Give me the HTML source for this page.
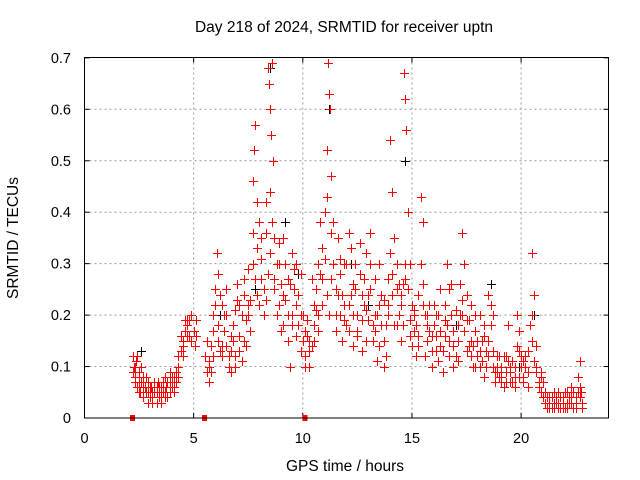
<!DOCTYPE html>
<html><head><meta charset="utf-8"><style>
body{margin:0;background:#fff}
svg{display:block;font-family:"Liberation Sans",sans-serif}
</style></head><body>
<svg id="chart" width="640" height="480" viewBox="0 0 640 480" xmlns="http://www.w3.org/2000/svg">
<rect width="640" height="480" fill="#fff"/>
<text x="344" y="32" font-size="15.5" text-anchor="middle">Day 218 of 2024, SRMTID for receiver uptn</text>
<text x="345" y="471" font-size="15.5" text-anchor="middle">GPS time / hours</text>
<text transform="translate(18,238) rotate(-90)" font-size="15.5" text-anchor="middle">SRMTID / TECUs</text>
<g id="grid"></g><g id="ticks"></g><g id="marks"></g>
<rect x="84.5" y="57.5" width="524" height="360.5" fill="none" stroke="#000" stroke-width="1"/>
</svg>
<script>
const xTicks=[0,5,10,15,20];
const yTicks=[0,0.1,0.2,0.3,0.4,0.5,0.6,0.7];
const yTickLabels=["0","0.1","0.2","0.3","0.4","0.5","0.6","0.7"];
const redHours=[2.2,2.25,2.3,2.35,2.4,2.5,2.55,2.6,2.7,2.75,2.8,2.9,3.0,3.05,3.1,3.2,3.3,3.35,3.4,3.5,3.6,3.7,3.75,3.8,3.9,4.0,4.1,4.2,4.3,4.4,4.5,4.6,4.7,4.8,4.9,5.0,5.05,5.1,5.5,5.6,5.7,5.8,5.9,6.0,6.05,6.1,6.2,6.3,6.4,6.5,6.6,6.7,6.8,6.9,7.0,7.1,7.2,7.3,7.4,7.5,7.6,7.7,7.75,7.8,7.9,8.0,8.1,8.2,8.3,8.4,8.45,8.5,8.55,8.6,8.65,8.7,8.8,8.9,9.0,9.1,9.2,9.3,9.4,9.5,9.6,9.7,9.8,9.9,10.0,10.1,10.2,10.3,10.4,10.5,10.6,10.7,10.8,10.9,11.0,11.1,11.15,11.2,11.25,11.3,11.4,11.5,11.6,11.7,11.8,11.9,12.0,12.1,12.2,12.3,12.4,12.5,12.6,12.7,12.8,12.9,13.0,13.1,13.2,13.3,13.4,13.5,13.6,13.7,13.8,13.9,14.0,14.1,14.2,14.3,14.4,14.5,14.6,14.65,14.7,14.75,14.8,14.9,15.0,15.1,15.2,15.3,15.4,15.5,15.6,15.7,15.8,15.9,16.0,16.1,16.2,16.3,16.4,16.5,16.6,16.7,16.8,16.9,17.0,17.1,17.2,17.3,17.4,17.5,17.6,17.7,17.8,17.9,18.0,18.1,18.2,18.3,18.4,18.5,18.6,18.7,18.8,18.9,19.0,19.1,19.2,19.3,19.4,19.5,19.6,19.7,19.8,19.9,20.0,20.1,20.2,20.3,20.5,20.6,20.7,20.8,20.9,21.0,21.1,21.2,21.3,21.4,21.5,21.6,21.7,21.8,21.9,22.0,22.1,22.2,22.3,22.4,22.5,22.6,22.7,22.75,22.8];
const redValues=[0.12,0.1,0.08,0.11,0.06,0.09,0.05,0.07,0.04,0.06,0.08,0.05,0.04,0.06,0.03,0.05,0.03,0.07,0.04,0.06,0.05,0.08,0.06,0.04,0.07,0.06,0.08,0.07,0.1,0.13,0.15,0.17,0.16,0.19,0.2,0.17,0.14,0.19,0.12,0.09,0.07,0.14,0.2,0.25,0.32,0.18,0.13,0.22,0.17,0.25,0.12,0.09,0.15,0.21,0.26,0.16,0.11,0.24,0.19,0.29,0.23,0.46,0.52,0.57,0.33,0.38,0.27,0.2,0.42,0.68,0.65,0.6,0.55,0.69,0.5,0.35,0.3,0.22,0.26,0.18,0.3,0.2,0.1,0.32,0.25,0.22,0.18,0.28,0.15,0.12,0.19,0.1,0.14,0.22,0.25,0.3,0.38,0.27,0.4,0.52,0.69,0.63,0.6,0.47,0.3,0.25,0.35,0.2,0.15,0.3,0.18,0.36,0.24,0.14,0.3,0.2,0.28,0.13,0.22,0.32,0.19,0.25,0.15,0.2,0.11,0.3,0.24,0.1,0.18,0.27,0.54,0.44,0.35,0.25,0.2,0.15,0.26,0.67,0.62,0.56,0.4,0.3,0.22,0.17,0.12,0.24,0.43,0.38,0.2,0.15,0.22,0.1,0.18,0.13,0.2,0.25,0.09,0.16,0.3,0.12,0.2,0.14,0.21,0.11,0.26,0.36,0.3,0.19,0.14,0.22,0.1,0.17,0.12,0.2,0.15,0.08,0.13,0.24,0.18,0.1,0.07,0.12,0.08,0.1,0.06,0.09,0.18,0.07,0.11,0.08,0.2,0.13,0.1,0.08,0.12,0.06,0.32,0.24,0.1,0.07,0.05,0.04,0.03,0.02,0.04,0.02,0.05,0.03,0.02,0.04,0.03,0.02,0.05,0.03,0.06,0.02,0.04,0.08,0.11,0.05,0.03];
const redHours2=[2.3,2.5,2.7,2.9,3.1,3.3,3.5,3.7,3.9,4.1,4.3,4.5,4.7,4.9,5.1,5.7,5.9,6.1,6.3,6.5,6.7,6.9,7.1,7.3,7.5,7.7,7.9,8.1,8.3,8.5,8.7,8.9,9.1,9.3,9.5,9.7,9.9,10.1,10.3,10.5,10.7,10.9,11.1,11.3,11.5,11.7,11.9,12.1,12.3,12.5,12.7,12.9,13.1,13.3,13.5,13.7,13.9,14.1,14.3,14.5,14.7,14.9,15.1,15.3,15.5,15.7,15.9,16.1,16.3,16.5,16.7,16.9,17.1,17.3,17.5,17.7,17.9,18.1,18.3,18.5,18.7,18.9,19.1,19.3,19.5,19.7,19.9,20.1,20.3,20.5,20.7,20.9,21.1,21.3,21.5,21.7,21.9,22.1,22.3,22.5,22.7];
const redValues2=[0.07,0.05,0.08,0.03,0.05,0.06,0.04,0.05,0.09,0.05,0.08,0.12,0.19,0.15,0.16,0.1,0.12,0.28,0.14,0.2,0.16,0.12,0.22,0.15,0.2,0.3,0.24,0.35,0.23,0.32,0.25,0.34,0.24,0.27,0.18,0.3,0.2,0.17,0.15,0.18,0.2,0.33,0.24,0.36,0.2,0.28,0.22,0.17,0.26,0.16,0.24,0.21,0.3,0.17,0.22,0.15,0.2,0.28,0.18,0.24,0.27,0.19,0.21,0.14,0.26,0.18,0.16,0.2,0.14,0.19,0.25,0.1,0.18,0.2,0.24,0.15,0.2,0.1,0.16,0.12,0.2,0.09,0.07,0.12,0.1,0.06,0.17,0.11,0.09,0.2,0.14,0.08,0.05,0.02,0.03,0.05,0.02,0.03,0.04,0.02,0.06];
const redHours3=[5.6,5.7,5.8,5.9,6.0,6.1,6.2,6.3,6.4,6.5,6.6,6.7,6.8,6.9,7.0,7.1,7.2,7.3,7.4,7.5,7.6,7.7,7.8,7.9,8.0,8.1,8.2,8.3,8.4,8.5,8.6,8.7,8.8,8.9,9.0,9.1,9.2,9.3,9.4,9.5,9.6,9.7,9.8,9.9,10.0,10.1,10.2,10.3,10.4,10.5,10.6,10.7,10.8,10.9,11.0,11.1,11.2,11.3,11.4,11.5,11.6,11.7,11.8,11.9,12.0,12.1,12.2,12.3,12.4,12.5,12.6,12.7,12.8,12.9,13.0,13.1,13.2,13.3,13.4,13.5,13.6,13.7,13.8,13.9,14.0,14.1,14.2,14.3,14.4,14.5,14.6,14.7,14.8,14.9,15.0,15.1,15.2,15.3,15.4,15.5,15.6,15.7,15.8,15.9,16.0,16.1,16.2,16.3,16.4,16.5,16.6,16.7,16.8,16.9,17.0,17.1,17.2,17.3,17.4,17.5,17.6,17.7,17.8,17.9,18.0,18.1,18.2,18.3,18.4,18.5,18.6,18.7,18.8,18.9,19.0,19.1,19.2,19.3,19.4,19.5,19.6,19.7,19.8,19.9,20.0,20.1,20.2,20.3,20.4,20.5,20.6,20.7,20.8];
const redValues3=[0.15,0.11,0.09,0.17,0.22,0.15,0.24,0.12,0.2,0.14,0.1,0.13,0.18,0.1,0.23,0.13,0.2,0.27,0.14,0.22,0.17,0.36,0.27,0.42,0.22,0.31,0.25,0.36,0.28,0.44,0.38,0.27,0.2,0.3,0.17,0.35,0.23,0.15,0.26,0.2,0.29,0.16,0.24,0.13,0.2,0.1,0.16,0.13,0.27,0.15,0.21,0.17,0.28,0.22,0.31,0.43,0.2,0.27,0.38,0.17,0.24,0.31,0.24,0.19,0.3,0.22,0.33,0.2,0.25,0.17,0.34,0.19,0.27,0.15,0.24,0.36,0.18,0.27,0.2,0.14,0.18,0.23,0.12,0.22,0.32,0.24,0.18,0.3,0.26,0.22,0.18,0.3,0.25,0.16,0.14,0.2,0.18,0.16,0.3,0.22,0.12,0.2,0.17,0.13,0.22,0.16,0.11,0.17,0.13,0.22,0.18,0.15,0.26,0.17,0.12,0.15,0.2,0.23,0.17,0.13,0.19,0.12,0.14,0.1,0.15,0.13,0.11,0.18,0.1,0.15,0.22,0.13,0.09,0.1,0.12,0.08,0.12,0.07,0.11,0.09,0.07,0.1,0.14,0.08,0.12,0.07,0.1,0.13,0.18,0.15,0.11,0.09,0.06];
const redHours4=[2.2,2.3,2.4,2.5,2.6,2.7,2.8,2.9,3.0,3.1,3.2,3.3,3.4,3.5,3.6,3.7,3.8,3.9,4.0,4.1,4.2,4.3,4.4,4.5,4.6,4.7,4.8,4.9,20.9,21.0,21.1,21.2,21.3,21.4,21.5,21.6,21.7,21.8,21.9,22.0,22.1,22.2,22.3,22.4,22.5,22.6,22.7,22.8];
const redValues4=[0.09,0.1,0.12,0.07,0.1,0.06,0.05,0.07,0.06,0.04,0.07,0.05,0.06,0.03,0.07,0.04,0.07,0.05,0.08,0.06,0.09,0.12,0.16,0.14,0.19,0.18,0.16,0.2,0.09,0.07,0.05,0.04,0.03,0.04,0.02,0.04,0.03,0.02,0.04,0.05,0.02,0.04,0.03,0.05,0.03,0.05,0.04,0.02];
const blackHours=[2.6,3.9,6.2,7.8,8.5,9.2,9.8,11.2,12.2,13.0,14.7,15.6,17.0,18.6,19.9,20.6,22.2];
const blackValues=[0.13,0.06,0.2,0.25,0.68,0.38,0.28,0.6,0.3,0.22,0.5,0.2,0.18,0.26,0.1,0.2,0.04];
const zeroHours=[2.2,5.5,10.1];

const X0=84.5,XS=21.83,Y0=418,YS=514.5;
const xs=h=>X0+h*XS, ys=v=>Y0-v*YS;
const NS="http://www.w3.org/2000/svg";
function mk(tag,at,parent){const e=document.createElementNS(NS,tag);for(const k in at)e.setAttribute(k,at[k]);parent.appendChild(e);return e;}
const grid=document.getElementById('grid'),ticks=document.getElementById('ticks'),marks=document.getElementById('marks');
xTicks.forEach(t=>{
  const x=xs(t);
  if(t>0){const g=mk('line',{x1:x,y1:57.5,x2:x,y2:418,stroke:'#999','stroke-dasharray':'2,3'},grid);
  
  }
  mk('line',{x1:x,y1:418,x2:x,y2:413,stroke:'#000'},ticks);
  mk('line',{x1:x,y1:57.5,x2:x,y2:62.5,stroke:'#000'},ticks);
  const tx=mk('text',{x:x,y:443,'font-size':14.5,'text-anchor':'middle'},ticks);
  tx.textContent=t;
  
  
});
yTicks.forEach((t,i)=>{
  const y=ys(t);
  if(t>0&&t<0.7){const g=mk('line',{x1:84.5,y1:y,x2:608.5,y2:y,stroke:'#999','stroke-dasharray':'2,3'},grid);
  
  }
  mk('line',{x1:84.5,y1:y,x2:89.5,y2:y,stroke:'#000'},ticks);
  mk('line',{x1:603.5,y1:y,x2:608.5,y2:y,stroke:'#000'},ticks);
  const tx=mk('text',{x:71,y:y+5,'font-size':14.5,'text-anchor':'end'},ticks);
  tx.textContent=yTickLabels[i];
  
  
});
function plus(h,v,c){
  const x=Math.round(xs(h))+0.5,y=Math.round(ys(v))+0.5;
  const p=mk('path',{d:`M${x-4.5} ${y}H${x+4.5}M${x} ${y-4.5}V${y+4.5}`,stroke:c,'stroke-width':1,fill:'none'},marks);
  
  
}
blackHours.forEach((h,i)=>plus(h,blackValues[i],'#000'));
redHours.forEach((h,i)=>plus(h,redValues[i],'#f00'));
redHours2.forEach((h,i)=>plus(h,redValues2[i],'#f00'));
redHours3.forEach((h,i)=>plus(h,redValues3[i],'#f00'));
redHours4.forEach((h,i)=>plus(h,redValues4[i],'#f00'));
zeroHours.forEach(h=>{
  const r=mk('rect',{x:xs(h)-2.5,y:415,width:5,height:6,fill:'#f00'},marks);
  
  
});
</script>
</body></html>
